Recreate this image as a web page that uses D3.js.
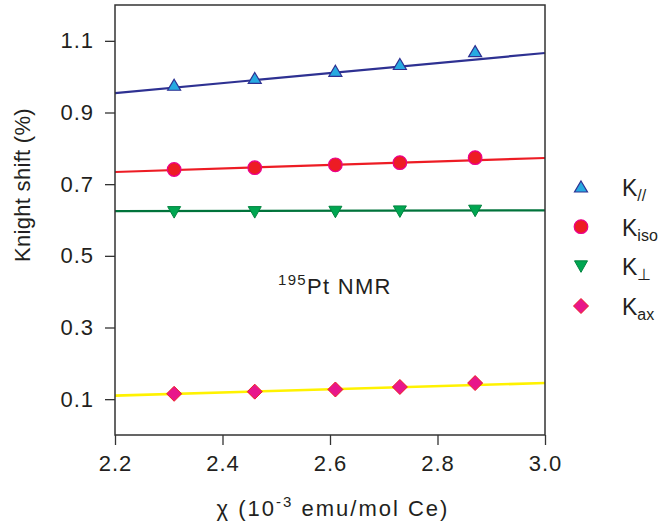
<!DOCTYPE html>
<html>
<head>
<meta charset="utf-8">
<script src="https://cdn.jsdelivr.net/npm/d3@7"></script>
<style>
  html, body { margin: 0; padding: 0; background: #fff; }
  svg { display: block; font-family: "Liberation Sans", Arial, sans-serif; }
</style>
</head>
<body>
<svg id="chart" width="666" height="528"></svg>
<script>
// Susceptibility values (10^-3 emu/mol Ce)
const chi = [2.31, 2.46, 2.61, 2.73, 2.87];

// Knight shift components (%)
const kPar  = [0.976, 0.995, 1.015, 1.034, 1.070];
const kIso  = [0.741, 0.746, 0.754, 0.760, 0.774];
const kPerp = [0.622, 0.622, 0.623, 0.624, 0.626];
const kAx   = [0.115, 0.121, 0.127, 0.134, 0.145];

// Linear fits evaluated at the ends of the chi range
const fitChi  = [2.2, 3.0];
const fitPar  = [0.954, 1.066];
const fitIso  = [0.734, 0.773];
const fitPerp = [0.625, 0.627];
const fitAx   = [0.110, 0.145];

// Axis ticks
const xTicks = [2.2, 2.4, 2.6, 2.8, 3.0];
const yTicks = [0.1, 0.3, 0.5, 0.7, 0.9, 1.1];

const legendLabels = [
  { main: "K", sub: "//" },
  { main: "K", sub: "iso" },
  { main: "K", sub: "\u22A5" },
  { main: "K", sub: "ax" }
];

const svg = d3.select("#chart");
const plotLeft = 115, plotRight = 545, plotTop = 5, plotBottom = 435;
const ink = "#231f20";

const x = d3.scaleLinear().domain([2.2, 3.0]).range([plotLeft, plotRight]);
const y = d3.scaleLinear().domain([0, 1.2]).range([plotBottom, plotTop]);

// Marker shape paths, centred on (0,0)
const shapes = {
  up:      "M0,-6L6.5,5L-6.5,5Z",
  circle:  d3.symbol().type(d3.symbolCircle).size(Math.PI * 6.8 * 6.8)(),
  down:    "M-6.5,-5.5L6.5,-5.5L0,6Z",
  diamond: "M0,-7.5L7.5,0L0,7.5L-7.5,0Z"
};

const series = [
  { vals: kPar,  fit: fitPar,  line: "#2e3192", lw: 2.2, shape: "up",      fill: "#27aae1", stroke: "#2e3192", sw: 1.2 },
  { vals: kIso,  fit: fitIso,  line: "#ed1c24", lw: 2.2, shape: "circle",  fill: "#ed1c24", stroke: "#ec008c", sw: 1.2 },
  { vals: kPerp, fit: fitPerp, line: "#00733b", lw: 2.2, shape: "down",    fill: "#00a651", stroke: "#00843f", sw: 1.0 },
  { vals: kAx,   fit: fitAx,   line: "#fff200", lw: 2.6, shape: "diamond", fill: "#e8168b", stroke: "#ed1c24", sw: 1.0 }
];

// Axes
const yAxis = d3.axisLeft(y).tickValues(yTicks).tickFormat(d3.format(".1f"))
  .tickSize(10).tickSizeOuter(0).tickPadding(11);
const xAxis = d3.axisBottom(x).tickValues(xTicks).tickFormat(d3.format(".1f"))
  .tickSize(10).tickSizeOuter(0).tickPadding(10);

const gy = svg.append("g").attr("transform", `translate(${plotLeft},0)`).call(yAxis);
const gx = svg.append("g").attr("transform", `translate(0,${plotBottom})`).call(xAxis);
[gx, gy].forEach(g => {
  g.select(".domain").remove();
  g.selectAll(".tick line").attr("stroke", "#333").attr("stroke-width", 1.3);
  g.selectAll(".tick text").attr("fill", ink).style("font-size", "22px")
    .style("letter-spacing", "1px").attr("font-family", "Liberation Sans, Arial, sans-serif");
});

// Fit lines
const lineGen = d3.line().x(d => x(d[0])).y(d => y(d[1]));
series.forEach(s => {
  svg.append("path")
    .attr("d", lineGen(fitChi.map((c, i) => [c, s.fit[i]])))
    .attr("fill", "none").attr("stroke", s.line).attr("stroke-width", s.lw);
});

// Data markers
series.forEach(s => {
  svg.append("g").selectAll("path").data(s.vals).join("path")
    .attr("transform", (v, i) => `translate(${x(chi[i])},${y(v)})`)
    .attr("d", shapes[s.shape])
    .attr("fill", s.fill).attr("stroke", s.stroke).attr("stroke-width", s.sw);
});

// Plot frame
svg.append("rect")
  .attr("x", plotLeft).attr("y", plotTop)
  .attr("width", plotRight - plotLeft).attr("height", plotBottom - plotTop)
  .attr("fill", "none").attr("stroke", "#333").attr("stroke-width", 1.5);

// Annotation
const ann = svg.append("text").attr("x", 278).attr("y", 294).attr("fill", ink)
  .style("font-size", "22px").style("letter-spacing", "1.3px");
ann.append("tspan").text("195").style("font-size", "15px").attr("dy", "-9");
ann.append("tspan").text("Pt NMR").attr("dy", "9");

// Axis titles
const xt = svg.append("text").attr("x", 333).attr("y", 516).attr("text-anchor", "middle")
  .attr("fill", ink).style("font-size", "22px").style("letter-spacing", "2px");
xt.append("tspan").text("\u03C7 (10");
xt.append("tspan").text("-3").style("font-size", "15px").attr("dy", "-9");
xt.append("tspan").text(" emu/mol Ce)").attr("dy", "9");

svg.append("text")
  .attr("transform", "translate(30,185) rotate(-90)")
  .attr("text-anchor", "middle").attr("fill", ink)
  .style("font-size", "22px").style("letter-spacing", "0.3px")
  .text("Knight shift (%)");

// Legend
const legendRowY = d3.scalePoint().domain(d3.range(series.length)).range([187, 306]);
series.forEach((s, i) => {
  const ly = legendRowY(i);
  svg.append("path")
    .attr("transform", `translate(581,${ly})`)
    .attr("d", shapes[s.shape])
    .attr("fill", s.fill).attr("stroke", s.stroke).attr("stroke-width", s.sw);
  const t = svg.append("text").attr("x", 622).attr("y", ly + 9).attr("fill", ink).style("font-size", "23px");
  t.append("tspan").text(legendLabels[i].main);
  t.append("tspan").text(legendLabels[i].sub).style("font-size", "16px").attr("dy", "5");
});
</script>
</body>
</html>
